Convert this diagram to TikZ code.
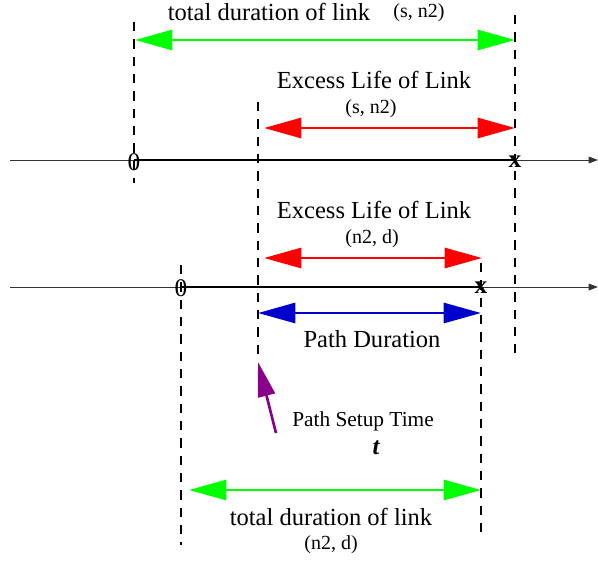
\documentclass[tikz,border=0pt]{standalone}
\usepackage{fontspec}
\setmainfont{Liberation Serif}
\usepackage{xcolor}
\usetikzlibrary{arrows.meta}

\definecolor{spangreen}{RGB}{0,255,0}
\definecolor{spanred}{RGB}{255,0,0}
\definecolor{spanblue}{RGB}{0,0,205}
\definecolor{setuppurple}{RGB}{139,0,139}

\begin{document}
\begin{tikzpicture}[x=0.75pt, y=-0.75pt,
        big/.style={font=\fontsize{18.4}{21}\selectfont},
        small/.style={font=\fontsize{15}{17}\selectfont},
        span/.style={{Triangle[length=28pt,width=15pt]}-{Triangle[length=28pt,width=15pt]}, line width=2.2pt},
        limit/.style={line width=2pt, dash pattern=on 7pt off 6pt},
        axis/.style={-{Triangle[length=7pt,width=5pt]}, line width=0.7pt, black!80},
        link/.style={line width=2pt},
        tick/.style={inner sep=0pt, font=\fontsize{19}{21}\selectfont}]
        \useasboundingbox (0, 0) rectangle (598, 560);

        % the two time axes
        \coordinate (axL1) at (10, 160);
        \coordinate (axR1) at (598, 160);
        \coordinate (axL2) at (10, 287);
        \coordinate (axR2) at (598, 287);
        \draw [axis] (axL1) -- (axR1); % link (s, n2)
        \draw [axis] (axL2) -- (axR2); % link (n2, d)

        % link lifetimes
        \coordinate (up1) at (134, 160);
        \coordinate (down1) at (515, 160);
        \coordinate (up2) at (181, 287);
        \coordinate (down2) at (481, 287);
        \draw [link] (up1) -- (down1);
        \draw [link] (up2) -- (down2);

        % dashed limits
        \coordinate (limA0) at (134, 22);   \coordinate (limA1) at (134, 183);
        \coordinate (limB0) at (515, 15);   \coordinate (limB1) at (515, 353);
        \coordinate (limC0) at (258, 102);  \coordinate (limC1) at (258, 357);
        \coordinate (limD0) at (181, 265);  \coordinate (limD1) at (181, 545);
        \coordinate (limE0) at (481, 263);  \coordinate (limE1) at (481, 537);
        \draw [limit] (limA0) -- (limA1);
        \draw [limit] (limB0) -- (limB1);
        \draw [limit] (limC0) -- (limC1);
        \draw [limit] (limD0) -- (limD1);
        \draw [limit] (limE0) -- (limE1);

        \node [tick] (o1) at (134, 162) {0};
        \node [tick] (x1) at (515, 162) {\bfseries x};
        \node [tick] (o2) at (181, 288) {0};
        \node [tick] (x2) at (481, 288) {\bfseries x};

        % total duration of link (s, n2)
        \coordinate (totA0) at (135, 40);
        \coordinate (totA1) at (515, 40);
        \draw [span, spangreen] (totA0) -- (totA1);
        \node [big] (totAtxt) at (269, 12) {total duration of link};
        \node [small] (totAsub) at (419, 13) {(s, n2)};

        % excess life of link (s, n2)
        \coordinate (exA0) at (264, 128);
        \coordinate (exA1) at (515, 128);
        \draw [span, spanred] (exA0) -- (exA1);
        \node [big] (exAtxt) at (374, 80) {Excess Life of Link};
        \node [small] (exAsub) at (371, 109) {(s, n2)};

        % excess life of link (n2, d)
        \coordinate (exB0) at (264, 258);
        \coordinate (exB1) at (482, 258);
        \draw [span, spanred] (exB0) -- (exB1);
        \node [big] (exBtxt) at (374, 210) {Excess Life of Link};
        \node [small] (exBsub) at (372, 239) {(n2, d)};

        % path duration
        \coordinate (pd0) at (258, 313);
        \coordinate (pd1) at (481, 313);
        \draw [span, spanblue] (pd0) -- (pd1);
        \node [big] (pdtxt) at (372, 339) {Path Duration};

        % path setup time
        \coordinate (ps0) at (276, 433);
        \coordinate (ps1) at (258, 362);
        \draw [-{Triangle[length=26pt,width=13pt]}, line width=2pt, setuppurple] (ps0) -- (ps1);
        \node [font=\fontsize{16}{18}\selectfont] (pstxt) at (363, 421) {Path Setup Time};
        \node [big] (pst) at (376, 448) {\bfseries\itshape t};

        % total duration of link (n2, d)
        \coordinate (totB0) at (189, 490);
        \coordinate (totB1) at (481, 490);
        \draw [span, spangreen] (totB0) -- (totB1);
        \node [big] (totBtxt) at (331, 517) {total duration of link};
        \node [small] (totBsub) at (331, 545) {(n2, d)};
    \end{tikzpicture}
\end{document}
